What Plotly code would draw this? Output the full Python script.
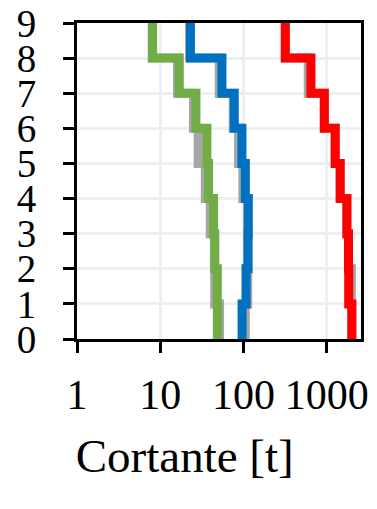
import plotly.graph_objects as go

# Story levels (0 = base, 9 = top)
levels = [0, 1, 2, 3, 4, 5, 6, 7, 8, 9]

# Shear per story (story i spans level i to i+1), colored series
green_vals = [48.4, 48.4, 45.0, 43.6, 38.0, 36.3, 26.8, 16.9, 8.1]
blue_vals = [96.0, 107.0, 113.0, 114.0, 105.0, 95.6, 77.3, 55.0, 23.0]
red_vals = [1995, 1830, 1820, 1740, 1446, 1260, 932, 644, 317]

# Companion (gray) series drawn underneath
green_gray = [51.5, 45.0, 45.0, 39.8, 34.7, 28.5, 25.0, 16.1, 8.0]
blue_gray = [105.0, 112.0, 113.0, 112.0, 98.0, 87.0, 75.0, 51.0, 22.5]
red_gray = [1995, 1970, 1820, 1740, 1446, 1260, 932, 598, 317]

x_ticks = [1, 10, 100, 1000]
x_tick_text = ["1", "10", "100", "1000"]
y_ticks = levels
x_title = "Cortante [t]"

GREEN = "#70AD47"
BLUE = "#0070C0"
RED = "#FF0000"
GRAY = "#A6A6A6"

FONT = "Liberation Serif, Times New Roman, serif"


def step_xy(vals):
    xs = list(vals) + [vals[-1]]
    ys = levels[: len(xs)]
    return xs, ys


fig = go.Figure()

for vals in (green_gray, blue_gray, red_gray):
    xs, ys = step_xy(vals)
    fig.add_trace(go.Scatter(x=xs, y=ys, mode="lines", line_shape="vh",
                             line=dict(color=GRAY, width=9),
                             showlegend=False, hoverinfo="skip"))

for vals, col in ((green_vals, GREEN), (blue_vals, BLUE), (red_vals, RED)):
    xs, ys = step_xy(vals)
    fig.add_trace(go.Scatter(x=xs, y=ys, mode="lines", line_shape="vh",
                             line=dict(color=col, width=9),
                             showlegend=False, hoverinfo="skip"))

xrange = [0, 3.41]
yrange = [0, 9]

fig.update_layout(
    width=377, height=509,
    margin=dict(l=77, r=16, t=23, b=170, pad=0, autoexpand=False),
    paper_bgcolor="white", plot_bgcolor="white",
    font=dict(family=FONT, color="black"),
    title=dict(text=x_title, font=dict(family=FONT, size=47, color="black"),
               xref="container", yref="container", x=0.49, y=0.105,
               xanchor="center", yanchor="middle", automargin=False),
    xaxis=dict(type="log", range=xrange, tickmode="array", tickvals=x_ticks,
               ticktext=x_tick_text, tickangle=0, automargin=False,
               ticks="outside", ticklen=11, tickwidth=3, tickcolor="black",
               showline=True, linecolor="black", linewidth=3, mirror=True,
               showgrid=True, gridcolor="#EFEFEF", gridwidth=3,
               zeroline=False, ticklabelstandoff=6,
               tickfont=dict(family=FONT, size=42, color="black")),
    yaxis=dict(range=yrange, tickmode="array", tickvals=y_ticks,
               automargin=False,
               ticks="outside", ticklen=11, tickwidth=3, tickcolor="black",
               showline=True, linecolor="black", linewidth=3, mirror=True,
               showgrid=True, gridcolor="#EFEFEF", gridwidth=3,
               zeroline=False, ticklabelstandoff=19,
               tickfont=dict(family=FONT, size=39, color="black")),
    xaxis2=dict(type="log", range=xrange, overlaying="x", anchor="y", side="bottom",
                tickmode="array", tickvals=x_ticks, ticks="inside", ticklen=11,
                tickwidth=3, tickcolor="black", showticklabels=False,
                showgrid=False, showline=False, zeroline=False, automargin=False),
    yaxis2=dict(range=yrange, overlaying="y", anchor="x", side="left",
                tickmode="array", tickvals=y_ticks, ticks="inside", ticklen=11,
                tickwidth=3, tickcolor="black", showticklabels=False,
                showgrid=False, showline=False, zeroline=False, automargin=False),
)

fig.write_html("out.html")
